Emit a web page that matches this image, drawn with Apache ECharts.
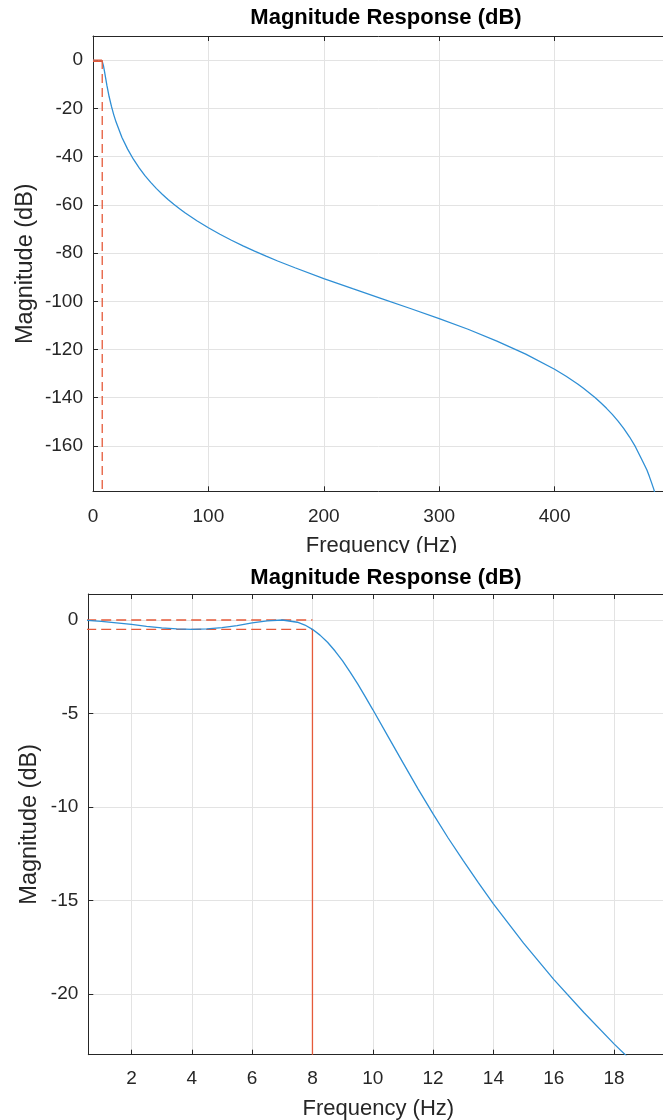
<!DOCTYPE html>
<html>
<head>
<meta charset="utf-8">
<script src="https://cdn.jsdelivr.net/npm/echarts@6/dist/echarts.min.js"></script>
<style>
html,body{margin:0;padding:0;background:#fff;}
#c1{position:absolute;left:0;top:0;width:663px;height:553px;}
#c2{position:absolute;left:0;top:553px;width:663px;height:567px;}
</style>
</head>
<body>
<div id="c1"></div>
<div id="c2"></div>
<script>
// ---- data ----
const titleText = 'Magnitude Response (dB)';
const xName = 'Frequency (Hz)';
const yName = 'Magnitude (dB)';

// full-range response
const topFreq = [0, 2, 4, 6, 7, 8, 9, 10, 11, 12, 14, 16, 18, 20, 25, 30, 35, 40, 45, 50, 55, 60, 65, 70, 75, 80, 90, 100, 110, 120, 130, 140, 150, 160, 175, 200, 225, 250, 275, 300, 325, 350, 375, 400, 410, 420, 425, 435, 440, 445, 450, 455, 460, 465, 470, 475, 478, 480, 482, 484, 486, 488, 490];
const topMag  = [0, -0.24, -0.5, -0.16, 0, -0.5, -2.2, -4.8, -7.6, -10.4, -15.2, -19.2, -22.7, -25.7, -32.0, -36.9, -41.1, -44.7, -47.9, -50.7, -53.3, -55.6, -57.8, -59.8, -61.6, -63.4, -66.6, -69.5, -72.2, -74.7, -77.0, -79.2, -81.3, -83.3, -86.1, -90.6, -94.8, -98.9, -103.0, -107.2, -111.6, -116.5, -121.9, -128.2, -131.1, -134.3, -136.1, -139.9, -142.1, -144.4, -146.9, -149.7, -152.8, -156.3, -160.3, -165.1, -168.0, -170.0, -172.5, -175.2, -178.0, -181.5, -186.0];
const topXTicks = [0, 100, 200, 300, 400, 500];
const topYTicks = [0, -20, -40, -60, -80, -100, -120, -140, -160];

// passband zoom
const botFreq = [0.5, 1, 1.5, 2, 2.5, 3, 3.5, 4, 4.5, 5, 5.5, 6, 6.5, 7, 7.5, 7.75, 8, 8.25, 8.5, 8.75, 9, 9.25, 9.5, 9.75, 10, 10.5, 11, 11.5, 12, 12.5, 13, 13.5, 14, 15, 16, 17, 18, 18.5, 19];
const botMag  = [-0.02, -0.07, -0.15, -0.24, -0.34, -0.42, -0.48, -0.5, -0.48, -0.41, -0.3, -0.16, -0.05, 0, -0.12, -0.27, -0.5, -0.81, -1.19, -1.66, -2.19, -2.79, -3.42, -4.1, -4.79, -6.21, -7.63, -9.03, -10.37, -11.66, -12.87, -14.05, -15.18, -17.28, -19.22, -20.99, -22.67, -23.45, -24.2];
const botXTicks = [2, 4, 6, 8, 10, 12, 14, 16, 18];
const botYTicks = [0, -5, -10, -15, -20];

// spec mask
const passEdge = 8;
const passRipple = 0.5;

// ---- styling ----
const FONT = "'Liberation Sans', Arial, Helvetica, sans-serif";
const AX = '#262626';
const GRIDC = '#e3e3e3';
const BLUE = '#2f8fd5';
const RED = '#e55a3a';

function pairs(xs, ys){ return xs.map((x,i)=>[x, ys[i]]); }

function buildOption(cfg){
  const xAxisBase = {
    type:'value', min:cfg.xmin, max:cfg.xmax,
    axisLine:{show:true, onZero:false, lineStyle:{color:AX, width:1}},
    axisTick:{show:true, inside:true, length:5, customValues:cfg.xticks, lineStyle:{color:AX}},
    axisLabel:{show:true, customValues:cfg.xticks, color:AX, fontSize:19, fontFamily:FONT, margin:cfg.xLabelMargin, showMaxLabel:cfg.showMaxX},
    splitLine:{show:true, lineStyle:{color:GRIDC, width:1}}
  };
  const yAxisBase = {
    type:'value', min:cfg.ymin, max:cfg.ymax,
    axisLine:{show:true, onZero:false, lineStyle:{color:AX, width:1}},
    axisTick:{show:true, inside:true, length:5, customValues:cfg.yticks, lineStyle:{color:AX}},
    axisLabel:{show:true, customValues:cfg.yticks, color:AX, fontSize:19, fontFamily:FONT, margin:10},
    splitLine:{show:true, lineStyle:{color:GRIDC, width:1}}
  };
  return {
    animation:false,
    backgroundColor:'#fff',
    title:{text:titleText, left:cfg.titleX, top:cfg.titleTop, textAlign:'center',
      textStyle:{fontFamily:FONT, fontWeight:'bold', fontSize:22, color:'#000'}},
    grid:{left:cfg.left, top:cfg.top, width:cfg.width, height:cfg.height, containLabel:false, outerBoundsMode:'none'},
    xAxis:[
      Object.assign({}, xAxisBase, {position:'bottom', name:xName, nameLocation:'middle', nameGap:cfg.xNameGap,
        nameTextStyle:{fontFamily:FONT, fontSize:22, color:AX}}),
      Object.assign({}, xAxisBase, {position:'top', axisLabel:{show:false}, splitLine:{show:false}})
    ],
    yAxis:[
      Object.assign({}, yAxisBase, {position:'left', name:yName, nameLocation:'middle', nameGap:cfg.yNameGap, nameRotate:90,
        nameMoveOverlap:false,
        nameTextStyle:{fontFamily:FONT, fontSize:23.5, color:AX}})
    ],
    series: cfg.series
  };
}

// ---- top chart ----
const topYMin = -178.8, topYMax = 10;
const c1 = echarts.init(document.getElementById('c1'), null, {renderer:'canvas'});
c1.setOption(buildOption({
  xmin:0, xmax:500, ymin:topYMin, ymax:topYMax,
  xticks:topXTicks, yticks:topYTicks, showMaxX:false,
  left:93, top:36, width:577, height:455.3,
  titleX:381, titleTop:2, xNameGap:44, yNameGap:55, xLabelMargin:16,
  series:[
    {type:'line', data:pairs(topFreq, topMag), showSymbol:false, symbol:'none',
      lineStyle:{color:BLUE, width:1.3}, z:3},
    {type:'line', data:[[0,0],[passEdge,0]], symbol:'none', lineStyle:{color:RED, width:1.3, type:[9,5]}, z:4},
    {type:'line', data:[[0,-passRipple],[passEdge,-passRipple]], symbol:'none', lineStyle:{color:RED, width:1.3, type:[9,5]}, z:4},
    {type:'line', data:[[passEdge,0],[passEdge,topYMin]], symbol:'none', lineStyle:{color:RED, width:1.3, type:[9,5]}, z:4}
  ]
}));

// ---- bottom chart ----
const botYMin = -23.25, botYMax = 1.39;
const c2 = echarts.init(document.getElementById('c2'), null, {renderer:'canvas'});
c2.setOption(buildOption({
  xmin:0.567, xmax:19.8, ymin:botYMin, ymax:botYMax,
  xticks:botXTicks, yticks:botYTicks, showMaxX:true,
  left:88.3, top:41, width:580, height:460.7,
  titleX:381, titleTop:9, xNameGap:43, yNameGap:46.5, xLabelMargin:15,
  series:[
    {type:'line', data:pairs(botFreq, botMag), showSymbol:false, symbol:'none',
      lineStyle:{color:BLUE, width:1.3}, z:3},
    {type:'line', data:[[0,0],[passEdge,0]], symbol:'none', lineStyle:{color:RED, width:1.3, type:[10,5]}, z:2},
    {type:'line', data:[[0,-passRipple],[passEdge,-passRipple]], symbol:'none', lineStyle:{color:RED, width:1.3, type:[10,5]}, z:2},
    {type:'line', data:[[passEdge,-passRipple],[passEdge,botYMin]], symbol:'none', lineStyle:{color:RED, width:1.3}, z:2}
  ]
}));
</script>
</body>
</html>
